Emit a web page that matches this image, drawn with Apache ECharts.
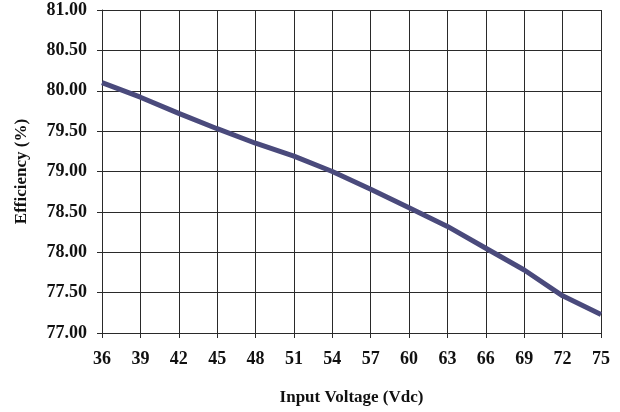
<!DOCTYPE html>
<html>
<head>
<meta charset="utf-8">
<script src="https://cdn.jsdelivr.net/npm/echarts@6/dist/echarts.min.js"></script>
<style>
  html, body { margin: 0; padding: 0; background: #fff; }
  #chart { width: 620px; height: 412px; }
</style>
</head>
<body>
<div id="chart"></div>
<script>
var voltage = [36, 39, 42, 45, 48, 51, 54, 57, 60, 63, 66, 69, 72, 75];
var efficiency = [80.10, 79.92, 79.72, 79.53, 79.35, 79.19, 79.00, 78.78, 78.55, 78.32, 78.05, 77.78, 77.46, 77.23];

var chart = echarts.init(document.getElementById('chart'));

var font = 'Liberation Serif';
var gridLine = { show: true, lineStyle: { color: '#2a2a2a', width: 1 } };

var option = {
    animation: false,
    grid: { left: 102, right: 19, top: 10, bottom: 79 },
    xAxis: {
        type: 'value',
        min: 36, max: 75, interval: 3,
        name: 'Input Voltage (Vdc)',
        nameLocation: 'middle',
        nameGap: 56,
        nameTextStyle: { fontFamily: font, fontWeight: 'bold', fontSize: 17, color: '#111' },
        axisLine: { lineStyle: { color: '#2a2a2a', width: 1 } },
        axisTick: { show: true, length: 5, lineStyle: { color: '#2a2a2a' } },
        axisLabel: { fontFamily: font, fontWeight: 'bold', fontSize: 18, color: '#111', margin: 17 },
        splitLine: gridLine
    },
    yAxis: {
        type: 'value',
        min: 77, max: 81, interval: 0.5,
        name: 'Efficiency (%)',
        nameLocation: 'middle',
        nameGap: 72,
        nameRotate: 90,
        nameTextStyle: { fontFamily: font, fontWeight: 'bold', fontSize: 17, color: '#111' },
        axisLine: { show: true, lineStyle: { color: '#2a2a2a', width: 1 } },
        axisTick: { show: true, length: 5, lineStyle: { color: '#2a2a2a' } },
        axisLabel: {
            fontFamily: font, fontWeight: 'bold', fontSize: 18, color: '#111', margin: 15,
            formatter: function (v) { return v.toFixed(2); }
        },
        splitLine: gridLine
    },
    series: [{
        type: 'line',
        data: voltage.map(function (v, i) { return [v, efficiency[i]]; }),
        showSymbol: false,
        lineStyle: { color: '#4a4a7c', width: 5 },
        itemStyle: { color: '#4a4a7c' }
    }]
};

chart.setOption(option);
</script>
</body>
</html>
